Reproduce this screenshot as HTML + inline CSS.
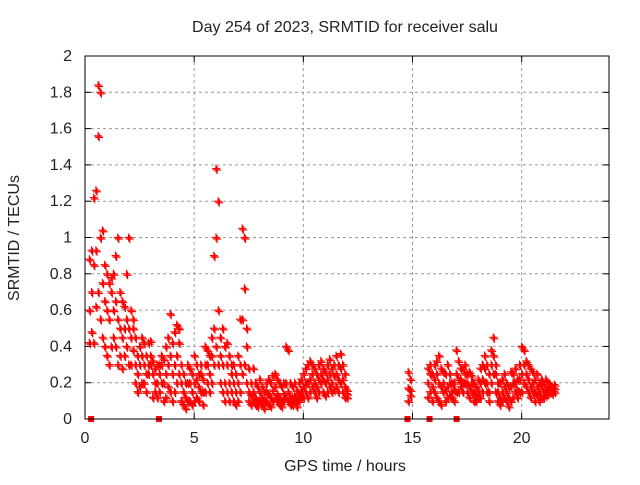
<!DOCTYPE html>
<html><head><meta charset="utf-8"><style>
body{margin:0;background:#fff}
svg text{font-family:"Liberation Sans",sans-serif;font-size:16px;fill:#222}
</style></head><body>
<svg id="c" width="640" height="480" xmlns="http://www.w3.org/2000/svg">
<text x="345" y="32" text-anchor="middle">Day 254 of 2023, SRMTID for receiver salu</text>
<text x="345" y="471" text-anchor="middle">GPS time / hours</text>
<text transform="translate(19,238) rotate(-90)" text-anchor="middle">SRMTID / TECUs</text>
<g id="grid"></g><g id="pts"></g><g id="sq"></g>
<rect x="85" y="56" width="524" height="363" fill="none" stroke="#000" stroke-width="1"/>
</svg>
<script>
const xTicks=[0,5,10,15,20];
const yTicks=[0,0.2,0.4,0.6,0.8,1,1.2,1.4,1.6,1.8,2];
const segStarts=[0.2,14.8,15.7];
const segCounts=[119,2,59];
const vals=[
[0.42,0.6,0.88],[0.48,0.7,0.93],[0.42,0.85,1.22],[0.62,0.93,1.26],[0.7,1.56,1.84],[0.55,1.0,1.8],[0.45,0.75,1.04],[0.4,0.65,0.85],[0.35,0.6,0.8],[0.3,0.55,0.75],
[0.4,0.7,0.78],[0.45,0.6,0.8],[0.4,0.65,0.9],[0.3,0.55,1.0],[0.35,0.5,0.7],[0.28,0.45,0.65],[0.35,0.5,0.62],[0.4,0.55,0.8],[0.3,0.5,1.0],[0.3,0.45,0.6],
[0.38,0.5,0.55],[0.2,0.3,0.45],[0.15,0.25,0.35],[0.18,0.3,0.4],[0.2,0.35,0.45],[0.2,0.3,0.42],[0.15,0.25,0.35],[0.25,0.3,0.42],[0.3,0.35,0.43],[0.12,0.25,0.32],
[0.15,0.2,0.28],[0.12,0.2,0.3],[0.15,0.25,0.3],[0.2,0.3,0.35],[0.1,0.2,0.33],[0.12,0.25,0.4],[0.18,0.3,0.45],[0.15,0.35,0.58],[0.1,0.25,0.42],[0.15,0.3,0.48],
[0.2,0.35,0.52],[0.25,0.42,0.5],[0.1,0.2,0.3],[0.08,0.15,0.25],[0.06,0.12,0.2],[0.1,0.2,0.3],[0.1,0.2,0.28],[0.08,0.15,0.25],[0.1,0.2,0.35],[0.12,0.22,0.3],
[0.1,0.18,0.25],[0.15,0.25,0.3],[0.08,0.15,0.22],[0.15,0.3,0.4],[0.2,0.3,0.38],[0.15,0.25,0.35],[0.2,0.35,0.45],[0.3,0.5,0.9],[0.4,1.0,1.38],[0.3,0.6,1.2],
[0.2,0.35,0.45],[0.15,0.3,0.5],[0.1,0.2,0.4],[0.15,0.3,0.42],[0.1,0.2,0.35],[0.15,0.25,0.3],[0.1,0.2,0.3],[0.08,0.15,0.25],[0.1,0.2,0.35],[0.15,0.3,0.55],
[0.25,0.55,1.05],[0.3,0.72,1.0],[0.2,0.4,0.5],[0.1,0.15,0.28],[0.08,0.13,0.2],[0.1,0.15,0.28],[0.08,0.12,0.2],[0.07,0.1,0.18],[0.1,0.15,0.22],[0.08,0.12,0.18],
[0.06,0.1,0.15],[0.1,0.15,0.2],[0.08,0.14,0.22],[0.07,0.12,0.2],[0.1,0.16,0.24],[0.12,0.18,0.25],[0.1,0.14,0.22],[0.08,0.12,0.2],[0.07,0.1,0.18],[0.1,0.14,0.2],
[0.12,0.2,0.4],[0.1,0.15,0.38],[0.08,0.12,0.2],[0.08,0.12,0.18],[0.1,0.13,0.2],[0.07,0.11,0.16],[0.1,0.14,0.2],[0.12,0.16,0.22],[0.12,0.18,0.25],[0.15,0.2,0.28],
[0.12,0.2,0.3],[0.15,0.22,0.32],[0.18,0.25,0.3],[0.15,0.2,0.28],[0.12,0.18,0.25],[0.15,0.22,0.3],[0.2,0.25,0.32],[0.15,0.22,0.28],[0.13,0.2,0.26],[0.15,0.22,0.3],
[0.18,0.25,0.33],[0.15,0.2,0.28],[0.16,0.24,0.3],[0.18,0.25,0.35],[0.15,0.22,0.3],[0.2,0.28,0.36],[0.15,0.22,0.3],[0.12,0.18,0.25],[0.12,0.14,0.16],
[0.1,0.17,0.26],[0.13,0.16,0.22],
[0.12,0.2,0.28],[0.15,0.25,0.3],[0.1,0.18,0.25],[0.15,0.22,0.3],[0.12,0.25,0.32],[0.1,0.2,0.35],[0.08,0.18,0.28],[0.15,0.2,0.26],[0.1,0.16,0.25],[0.12,0.18,0.3],
[0.13,0.2,0.25],[0.12,0.15,0.2],[0.1,0.16,0.2],[0.15,0.25,0.38],[0.15,0.22,0.32],[0.18,0.22,0.28],[0.15,0.2,0.28],[0.2,0.25,0.3],[0.15,0.2,0.25],[0.12,0.18,0.26],
[0.15,0.2,0.24],[0.1,0.15,0.2],[0.1,0.13,0.18],[0.12,0.16,0.22],[0.12,0.2,0.28],[0.15,0.22,0.3],[0.2,0.28,0.35],[0.15,0.2,0.3],[0.1,0.15,0.25],[0.2,0.3,0.38],
[0.25,0.35,0.45],[0.15,0.25,0.3],[0.1,0.15,0.2],[0.08,0.12,0.2],[0.1,0.15,0.22],[0.12,0.18,0.25],[0.1,0.15,0.2],[0.07,0.12,0.18],[0.1,0.18,0.26],[0.12,0.2,0.25],
[0.15,0.2,0.28],[0.12,0.16,0.22],[0.15,0.22,0.3],[0.15,0.25,0.4],[0.2,0.3,0.38],[0.18,0.25,0.32],[0.15,0.22,0.3],[0.12,0.18,0.28],[0.15,0.2,0.26],[0.1,0.15,0.22],
[0.13,0.18,0.25],[0.1,0.15,0.2],[0.12,0.18,0.22],[0.12,0.15,0.2],[0.13,0.17,0.22],[0.14,0.18,0.2],[0.15,0.17,0.19],[0.14,0.16,0.18],[0.15,0.17,0.19]
];
const gapMarks=[0.28,3.39,14.77,15.78,17.02];
const NS='http://www.w3.org/2000/svg';
const X=h=>85+h*524/24, Y=v=>419-v*363/2;
function mk(tag,attrs,parent){const e=document.createElementNS(NS,tag);for(const k in attrs)e.setAttribute(k,attrs[k]);parent.appendChild(e);return e;}
const grid=document.getElementById('grid'),c=document.getElementById('c');
yTicks.forEach(v=>{
  const y=Y(v);
  if(v>0&&v<2){const l=mk('line',{x1:85,x2:609,y1:y,y2:y,stroke:'#999','stroke-dasharray':'3,3'},grid);
  
  }
  mk('line',{x1:85,x2:91,y1:y,y2:y,stroke:'#000'},grid);
  mk('line',{x1:603,x2:609,y1:y,y2:y,stroke:'#000'},grid);
  const t=mk('text',{x:72,y:y+5,'text-anchor':'end'},c);t.textContent=String(v);
  
  
});
xTicks.forEach(h=>{
  const x=X(h);
  if(h>0){const l=mk('line',{x1:x,x2:x,y1:56,y2:419,stroke:'#999','stroke-dasharray':'3,3'},grid);
  
  }
  mk('line',{x1:x,x2:x,y1:413,y2:419,stroke:'#000'},grid);
  mk('line',{x1:x,x2:x,y1:56,y2:62,stroke:'#000'},grid);
  const t=mk('text',{x:x,y:443,'text-anchor':'middle'},c);t.textContent=String(h);
  
  
});
const pts=document.getElementById('pts');
let d='',i=0;
segStarts.forEach((s,si)=>{
  for(let k=0;k<segCounts[si];k++,i++){
    const h=s+k*0.1,x=X(h);
    (vals[i]||[]).forEach(v=>{const y=Y(v);
      d+=`M${x-4} ${y}h8M${x} ${y-4}v8`;
      d+=`M${x-2.9} ${y+1.5}h8M${x+1.1} ${y-2.5}v8`;});
  }
});
const p=mk('path',{d:d,stroke:'#f00','stroke-width':1.2,fill:'none'},pts);


const sq=document.getElementById('sq');
gapMarks.forEach(h=>{
  const r=mk('rect',{x:X(h)-3,y:416,width:6,height:6,fill:'#f00'},sq);
  
  
});
</script>
</body></html>
